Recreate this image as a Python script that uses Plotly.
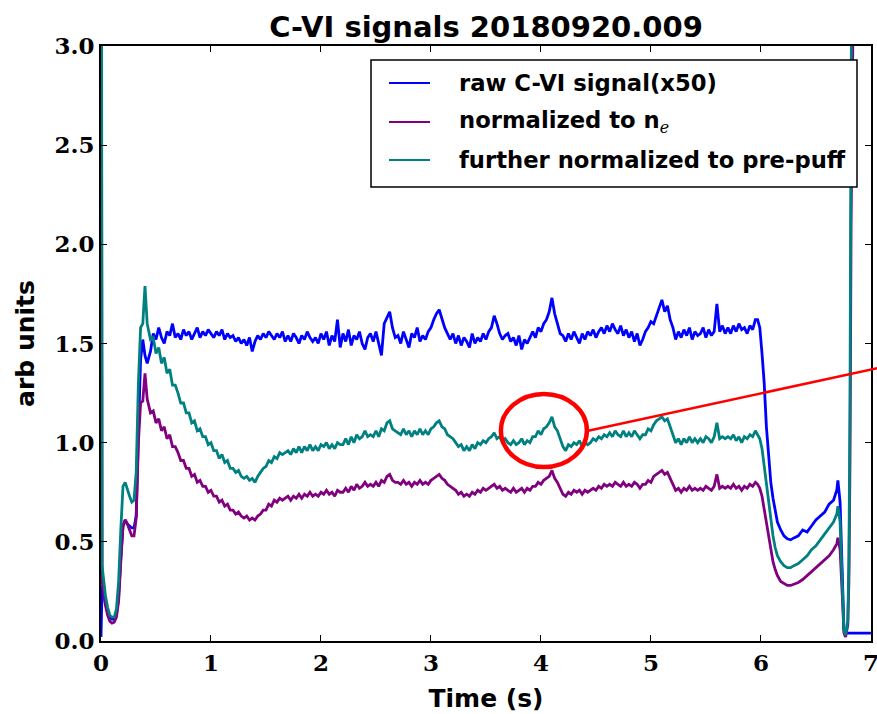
import numpy as np
import plotly.graph_objects as go

# ---------------- data ----------------
# start-up segment (irregular sampling)
t_start = [0.0, 0.005, 0.01, 0.02, 0.04, 0.06, 0.08, 0.10, 0.12, 0.14, 0.16, 0.18,
           0.20, 0.22, 0.24, 0.26, 0.28, 0.30, 0.32, 0.34, 0.36, 0.38, 0.40, 0.42]
raw_start = [0.02, 0.10, 0.28, 0.26, 0.19, 0.15, 0.12, 0.11, 0.11, 0.13, 0.22, 0.42,
             0.58, 0.61, 0.59, 0.58, 0.57, 0.57, 0.63, 1.05, 1.42, 1.52, 1.44, 1.40]
ne_start = [5.0, 1.5, 0.30, 0.26, 0.18, 0.13, 0.10, 0.09, 0.095, 0.12, 0.20, 0.40,
            0.58, 0.61, 0.59, 0.56, 0.53, 0.53, 0.62, 1.00, 1.20, 1.21, 1.35, 1.22]
pp_start = [6.5, 2.0, 0.38, 0.33, 0.23, 0.17, 0.13, 0.12, 0.12, 0.16, 0.30, 0.56,
            0.78, 0.80, 0.76, 0.73, 0.70, 0.71, 0.85, 1.30, 1.58, 1.60, 1.79, 1.60]

# flat-top segment, sampled every 0.025 s from 0.45 s to 5.95 s
t_flat = np.round(0.45 + 0.025 * np.arange(221), 3)
raw_flat = [
    1.46, 1.55, 1.52, 1.58, 1.53, 1.50, 1.56, 1.54, 1.60, 1.53,
    1.55, 1.52, 1.57, 1.54, 1.56, 1.52, 1.55, 1.58, 1.53, 1.56,
    1.54, 1.57, 1.55, 1.53, 1.56, 1.54, 1.57, 1.52, 1.55, 1.53,
    1.54, 1.51, 1.53, 1.50, 1.52, 1.49, 1.53, 1.46, 1.51, 1.54,
    1.52, 1.55, 1.53, 1.56, 1.54, 1.52, 1.55, 1.53, 1.56, 1.51,
    1.54, 1.51, 1.55, 1.53, 1.50, 1.54, 1.52, 1.56, 1.53, 1.51,
    1.53, 1.50, 1.55, 1.52, 1.56, 1.49, 1.54, 1.51, 1.62, 1.48,
    1.55, 1.51, 1.57, 1.49, 1.54, 1.52, 1.56, 1.50, 1.47, 1.53,
    1.55, 1.51, 1.56, 1.50, 1.44, 1.60, 1.63, 1.66, 1.58, 1.53,
    1.54, 1.50, 1.56, 1.52, 1.48, 1.55, 1.53, 1.58, 1.51, 1.54,
    1.52, 1.56, 1.58, 1.62, 1.65, 1.67, 1.62, 1.58, 1.55, 1.52,
    1.55, 1.50, 1.54, 1.49, 1.53, 1.51, 1.48, 1.55, 1.50, 1.53,
    1.51, 1.55, 1.52, 1.56, 1.58, 1.64, 1.60, 1.55, 1.52, 1.54,
    1.55, 1.51, 1.53, 1.49, 1.54, 1.47, 1.52, 1.50, 1.53, 1.56,
    1.53, 1.58, 1.56, 1.60, 1.62, 1.66, 1.73, 1.65, 1.60, 1.55,
    1.54, 1.51, 1.55, 1.52, 1.56, 1.53, 1.50, 1.55, 1.52, 1.56,
    1.54, 1.57, 1.53, 1.56, 1.58, 1.55, 1.59, 1.56, 1.60, 1.57,
    1.55, 1.59, 1.54, 1.57, 1.53, 1.56, 1.51, 1.55, 1.49, 1.52,
    1.56, 1.58, 1.61, 1.60, 1.64, 1.68, 1.72, 1.66, 1.69, 1.62,
    1.58, 1.52, 1.56, 1.53, 1.57, 1.54, 1.58, 1.52, 1.56, 1.54,
    1.55, 1.58, 1.53, 1.57, 1.54, 1.56, 1.70, 1.56, 1.59, 1.55,
    1.58, 1.55, 1.59, 1.56, 1.60, 1.57, 1.58, 1.55, 1.59, 1.57,
    1.62]
ne_flat = [
    1.15, 1.16, 1.10, 1.12, 1.06, 1.08, 1.02, 1.04, 0.98, 0.98,
    0.95, 0.91, 0.91, 0.87, 0.87, 0.83, 0.84, 0.80, 0.81, 0.78,
    0.78, 0.75, 0.76, 0.73, 0.73, 0.70, 0.71, 0.68, 0.69, 0.66,
    0.66, 0.64, 0.65, 0.63, 0.62, 0.63, 0.61, 0.62, 0.61, 0.63,
    0.64, 0.66, 0.66, 0.69, 0.68, 0.71, 0.70, 0.72, 0.71, 0.72,
    0.73, 0.71, 0.73, 0.72, 0.74, 0.72, 0.74, 0.73, 0.75, 0.73,
    0.74, 0.73, 0.75, 0.74, 0.76, 0.74, 0.75, 0.73, 0.76, 0.75,
    0.75, 0.77, 0.75, 0.78, 0.76, 0.79, 0.77, 0.78, 0.80, 0.78,
    0.79, 0.78, 0.80, 0.78, 0.81, 0.80, 0.83, 0.84, 0.81, 0.80,
    0.80, 0.79, 0.81, 0.79, 0.80, 0.78, 0.80, 0.79, 0.81, 0.79,
    0.80, 0.79, 0.81, 0.82, 0.83, 0.84, 0.82, 0.81, 0.79, 0.78,
    0.77, 0.76, 0.74, 0.75, 0.73, 0.74, 0.73, 0.75, 0.74, 0.76,
    0.75, 0.77, 0.76, 0.77, 0.78, 0.79, 0.77, 0.78, 0.76, 0.77,
    0.76, 0.75, 0.77, 0.75, 0.76, 0.77, 0.75, 0.77, 0.76, 0.78,
    0.78, 0.80, 0.79, 0.81, 0.82, 0.83, 0.86, 0.82, 0.80, 0.77,
    0.74, 0.73, 0.75, 0.74, 0.76, 0.75, 0.76, 0.74, 0.76, 0.75,
    0.76, 0.77, 0.76, 0.78, 0.77, 0.79, 0.78, 0.79, 0.78, 0.80,
    0.79, 0.78, 0.80, 0.78, 0.79, 0.78, 0.80, 0.79, 0.77, 0.79,
    0.79, 0.81, 0.80, 0.83, 0.84, 0.85, 0.86, 0.84, 0.85, 0.82,
    0.79, 0.76, 0.77, 0.75, 0.77, 0.76, 0.78, 0.76, 0.77, 0.76,
    0.77, 0.76, 0.78, 0.77, 0.76, 0.78, 0.84, 0.77, 0.78, 0.77,
    0.78, 0.77, 0.79, 0.77, 0.78, 0.76, 0.78, 0.77, 0.79, 0.78,
    0.80]
pp_flat = [
    1.52, 1.53, 1.45, 1.48, 1.40, 1.43, 1.35, 1.37, 1.29, 1.29,
    1.25, 1.20, 1.20, 1.15, 1.15, 1.10, 1.11, 1.06, 1.07, 1.03,
    1.03, 0.99, 1.00, 0.96, 0.96, 0.92, 0.94, 0.90, 0.91, 0.87,
    0.87, 0.85, 0.86, 0.83, 0.82, 0.83, 0.81, 0.82, 0.80, 0.83,
    0.85, 0.87, 0.88, 0.91, 0.90, 0.93, 0.92, 0.95, 0.94, 0.95,
    0.96, 0.94, 0.97, 0.95, 0.98, 0.95, 0.98, 0.96, 0.99, 0.96,
    0.98, 0.96, 0.99, 0.98, 1.00, 0.97, 0.99, 0.97, 1.00, 0.99,
    0.99, 1.02, 0.99, 1.03, 1.00, 1.04, 1.02, 1.03, 1.06, 1.03,
    1.04, 1.03, 1.06, 1.03, 1.07, 1.06, 1.10, 1.11, 1.07, 1.06,
    1.05, 1.04, 1.07, 1.04, 1.06, 1.03, 1.06, 1.04, 1.07, 1.04,
    1.06, 1.04, 1.07, 1.08, 1.10, 1.11, 1.08, 1.07, 1.04, 1.03,
    1.02, 1.00, 0.98, 0.99, 0.96, 0.98, 0.96, 0.99, 0.97, 1.00,
    0.99, 1.01, 1.00, 1.02, 1.03, 1.05, 1.02, 1.03, 1.00, 1.02,
    1.00, 0.99, 1.01, 0.99, 1.00, 1.02, 0.99, 1.01, 1.00, 1.03,
    1.03, 1.06, 1.04, 1.07, 1.08, 1.10, 1.13, 1.08, 1.06, 1.02,
    0.98, 0.96, 0.99, 0.98, 1.00, 0.99, 1.01, 0.98, 1.00, 0.99,
    1.00, 1.02, 1.01, 1.03, 1.02, 1.04, 1.03, 1.05, 1.03, 1.06,
    1.04, 1.03, 1.06, 1.03, 1.05, 1.03, 1.06, 1.04, 1.02, 1.04,
    1.04, 1.07, 1.06, 1.09, 1.11, 1.12, 1.13, 1.11, 1.12, 1.08,
    1.04, 1.00, 1.02, 0.99, 1.02, 1.00, 1.03, 1.00, 1.02, 1.00,
    1.02, 1.00, 1.03, 1.02, 1.00, 1.03, 1.10, 1.02, 1.03, 1.02,
    1.03, 1.02, 1.04, 1.01, 1.03, 1.00, 1.03, 1.02, 1.04, 1.03,
    1.06]

# ramp-down / end segment (irregular sampling)
t_end = [5.97, 5.99, 6.01, 6.03, 6.05, 6.07, 6.09, 6.11, 6.13, 6.15, 6.18, 6.21,
         6.24, 6.27, 6.30, 6.34, 6.38, 6.42, 6.46, 6.50, 6.54, 6.58, 6.62, 6.66,
         6.69, 6.70, 6.72, 6.74, 6.755, 6.77, 6.79, 6.80, 6.81, 6.82, 6.83, 6.85,
         6.90, 7.0]
raw_end = [1.62, 1.58, 1.45, 1.30, 1.08, 0.93, 0.80, 0.72, 0.65, 0.60, 0.56, 0.53,
           0.515, 0.51, 0.52, 0.53, 0.56, 0.55, 0.58, 0.61, 0.63, 0.65, 0.69, 0.71,
           0.76, 0.81, 0.70, 0.35, 0.06, 0.04, 0.04, 0.04, 0.04, 0.04, 0.04, 0.04,
           0.04, 0.04]
ne_end = [0.79, 0.77, 0.73, 0.66, 0.60, 0.53, 0.45, 0.40, 0.36, 0.33, 0.30, 0.29,
          0.28, 0.28, 0.285, 0.295, 0.31, 0.33, 0.35, 0.37, 0.39, 0.41, 0.43, 0.46,
          0.49, 0.52, 0.46, 0.23, 0.04, 0.02, 0.08, 0.30, 0.90, 2.10, 3.40, 5.3,
          6.8, 6.8]
pp_end = [1.04, 1.02, 0.97, 0.88, 0.80, 0.70, 0.60, 0.53, 0.47, 0.43, 0.40, 0.38,
          0.37, 0.37, 0.38, 0.39, 0.41, 0.43, 0.46, 0.48, 0.51, 0.54, 0.57, 0.60,
          0.64, 0.68, 0.60, 0.30, 0.05, 0.03, 0.10, 0.40, 1.20, 2.80, 4.50, 7.0,
          9.0, 9.0]

series_names = ["raw C-VI signal(x50)", "normalized to n<sub>e</sub>",
                "further normalized to pre-puff"]
series_colors = ["#0000ff", "#800080", "#008080"]

x_ticks = [0, 1, 2, 3, 4, 5, 6, 7]
y_ticks = [0.0, 0.5, 1.0, 1.5, 2.0, 2.5, 3.0]

# ---------------- assemble ----------------
time = list(t_start) + list(t_flat) + list(t_end)
raw = raw_start + raw_flat + raw_end
ne = ne_start + ne_flat + ne_end
pp = pp_start + pp_flat + pp_end
assert len(time) == len(raw) == len(ne) == len(pp)

fig = go.Figure()
for name, ys, col in zip(series_names, [raw, ne, pp], series_colors):
    fig.add_trace(go.Scatter(x=time, y=ys, mode="lines", name=name,
                             line=dict(color=col, width=2.8), showlegend=False))

# ---------------- layout ----------------
W, H = 877, 714
L, R, T, B = 101, 6, 46, 73
tick_font = dict(family="DejaVu Serif", size=23, color="black", weight="bold")
sans = "DejaVu Sans"

fig.update_layout(
    width=W, height=H,
    margin=dict(l=L, r=R, t=T, b=B, autoexpand=False),
    paper_bgcolor="white", plot_bgcolor="white",
    title=dict(text="<b>C-VI signals 20180920.009</b>",
               font=dict(family=sans, size=29, color="black"),
               x=0.5, xref="paper", xanchor="center",
               y=1 - 27 / H, yref="container", yanchor="middle"),
    xaxis=dict(range=[0, 7.001], tickvals=x_ticks, ticktext=[str(v) for v in x_ticks],
               ticks="inside", ticklen=6, tickwidth=1, tickcolor="black",
               showline=True, linecolor="black", linewidth=2, mirror="ticks",
               showgrid=False, zeroline=False, tickfont=tick_font,
               ticklabeloverflow="allow",
               title=dict(text="<b>Time (s)</b>", font=dict(family=sans, size=25, color="black"),
                          standoff=15),
               automargin=False),
    yaxis=dict(range=[0, 3], tickvals=y_ticks, ticktext=[f"{v:.1f}" for v in y_ticks],
               ticks="inside", ticklen=6, tickwidth=1, tickcolor="black",
               showline=True, linecolor="black", linewidth=2, mirror="ticks",
               showgrid=False, zeroline=False, tickfont=tick_font,
               title=dict(text="<b>arb units</b>", font=dict(family=sans, size=25, color="black"),
                          standoff=13),
               automargin=False),
)

PW, PH = W - L - R, H - T - B
def px(xp):
    return (xp - L) / PW
def py(yp):
    return (H - B - yp) / PH

shapes = []
# red highlight ellipse around the feature near t = 4 s
shapes.append(dict(type="circle", xref="x", yref="y", x0=3.636, x1=4.418, y0=0.877, y1=1.246,
                   line=dict(color="red", width=4.5), layer="above"))
# red pointer line leaving the plot to the right
shapes.append(dict(type="line", xref="paper", yref="paper", x0=px(587), y0=py(431),
                   x1=px(878), y1=py(368), line=dict(color="red", width=2.5), layer="above"))
# legend box
shapes.append(dict(type="rect", xref="paper", yref="paper", x0=px(371), x1=px(857),
                   y0=py(187), y1=py(60), line=dict(color="black", width=1.5),
                   fillcolor="white", layer="above"))
annotations = []
rows_y = [83, 122, 160]
legend_labels = ["<b>raw C-VI signal(x50)</b>",
                 "<b>normalized to n</b><sub><span style='font-family:DejaVu Serif;font-style:italic;font-weight:normal'>e</span></sub>",
                 "<b>further normalized to pre-puff</b>"]
for ry, lab, col in zip(rows_y, legend_labels, series_colors):
    shapes.append(dict(type="line", xref="paper", yref="paper", x0=px(389), x1=px(430),
                       y0=py(ry), y1=py(ry), line=dict(color=col, width=2), layer="above"))
    annotations.append(dict(text=lab, xref="paper", yref="paper", x=px(457), y=py(ry),
                            xanchor="left", yanchor="middle", showarrow=False,
                            font=dict(family=sans, size=22.7, color="black")))

fig.update_layout(shapes=shapes, annotations=annotations)
fig.write_html("out.html")
